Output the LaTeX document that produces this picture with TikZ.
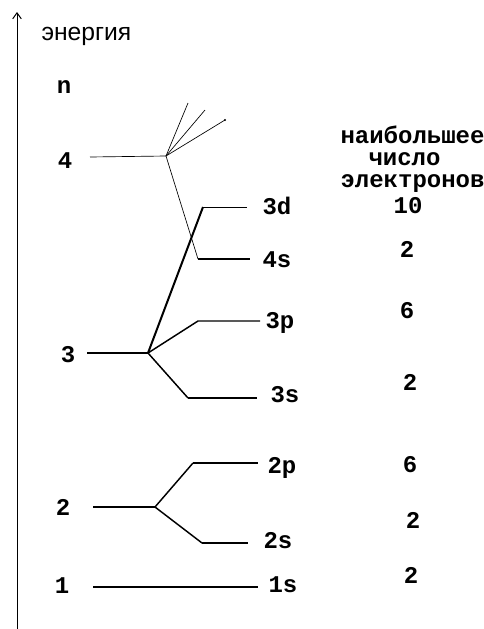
\documentclass[tikz,border=0pt]{standalone}
\usepackage{fontspec}
\setmainfont{Liberation Mono}
\newfontfamily\axisfont{Liberation Sans}
\usetikzlibrary{arrows.meta}
\tikzset{every picture/.style={line width=0.75pt}}

\begin{document}
\begin{tikzpicture}[x=0.75pt,y=0.75pt,yscale=-1,xscale=1,
  lbl/.style={anchor=base west,inner sep=0pt,font=\bfseries\fontsize{18}{20}\selectfont},
  num/.style={anchor=base,inner sep=0pt,font=\bfseries\fontsize{18}{20}\selectfont},
  level/.style={line width=1.5pt},
  branch/.style={line width=1.1pt},
  faint/.style={line width=0.5pt}]
\useasboundingbox (0,0) rectangle (483,629);

%Straight Lines: energy axis
\coordinate (ax0) at (17,629);
\coordinate (ax1) at (17,12);
\draw [-{Straight Barb[length=4.5pt,width=6.5pt]}] (ax0) -- (ax1);
% Text Node
\node [anchor=base west,inner sep=0pt,font=\axisfont\fontsize{18.5}{20}\selectfont] (energy) at (41,40) {энергия};

% Text Node: shell numbers
\node [num] (nn) at (64,93) {n};
\node [num] (n4) at (65,168) {4};
\node [num] (n3) at (68,362) {3};
\node [num] (n2) at (63,515) {2};
\node [num] (n1) at (62,593) {1};

%Shape: junctions and corners
\coordinate (s4) at (90,157);
\coordinate (j4) at (166,156);
\coordinate (f1) at (188,103);
\coordinate (f2) at (205,110);
\coordinate (f3) at (225,120);
\coordinate (k4s) at (198,259);
\coordinate (e4s) at (250,259);
\coordinate (s3) at (87,353);
\coordinate (j3) at (148,353);
\coordinate (k3d) at (203,207);
\coordinate (e3d) at (247,207);
\coordinate (k3p) at (198,321);
\coordinate (e3p) at (260,321);
\coordinate (k3s) at (188,398);
\coordinate (e3s) at (257,398);
\coordinate (s2) at (93,507);
\coordinate (j2) at (155,507);
\coordinate (k2p) at (193,463);
\coordinate (e2p) at (258,463);
\coordinate (k2s) at (202,543);
\coordinate (e2s) at (248,543);
\coordinate (s1) at (93,587);
\coordinate (e1s) at (258,587);

%Straight Lines: n = 4
\draw [faint] (s4) -- (j4);
\draw [faint] (j4) -- (f1);
\draw [faint] (j4) -- (f2);
\draw [faint] (j4) -- (f3);
\fill (f3) circle (1.2);
\draw [faint] (j4) -- (k4s);
\draw [level] (k4s) -- (e4s);
%Straight Lines: n = 3
\draw [level] (s3) -- (j3);
\draw [level] (j3) -- (k3d);
\draw [faint] (k3d) -- (e3d);
\draw [branch] (j3) -- (k3p) -- (e3p);
\draw [branch] (j3) -- (k3s);
\draw [level] (k3s) -- (e3s);
%Straight Lines: n = 2
\draw [level] (s2) -- (j2);
\draw [branch] (j2) -- (k2p);
\draw [line width=2pt] (k2p) -- (e2p);
\draw [branch] (j2) -- (k2s);
\draw [level] (k2s) -- (e2s);
%Straight Lines: n = 1
\draw [line width=2pt] (s1) -- (e1s);

% Text Node: sublevels
\node [lbl] (l3d) at (262,214) {3d};
\node [lbl] (l4s) at (262,267) {4s};
\node [lbl] (l3p) at (265,328) {3p};
\node [lbl] (l3s) at (270,402) {3s};
\node [lbl] (l2p) at (267,473) {2p};
\node [lbl] (l2s) at (263,548) {2s};
\node [lbl] (l1s) at (268,592) {1s};

% Text Node: header
\node [lbl] (h1) at (340,143) {наибольшее};
\node [lbl] (h2) at (368,165) {число};
\node [lbl] (h3) at (340,187) {электронов};

% Text Node: electron counts
\node [num] (c3d) at (408,213) {10};
\node [num] (c4s) at (407,257) {2};
\node [num] (c3p) at (407,318) {6};
\node [num] (c3s) at (410,390) {2};
\node [num] (c2p) at (410,472) {6};
\node [num] (c2s) at (413,528) {2};
\node [num] (c1s) at (411,583) {2};

\end{tikzpicture}
\end{document}
